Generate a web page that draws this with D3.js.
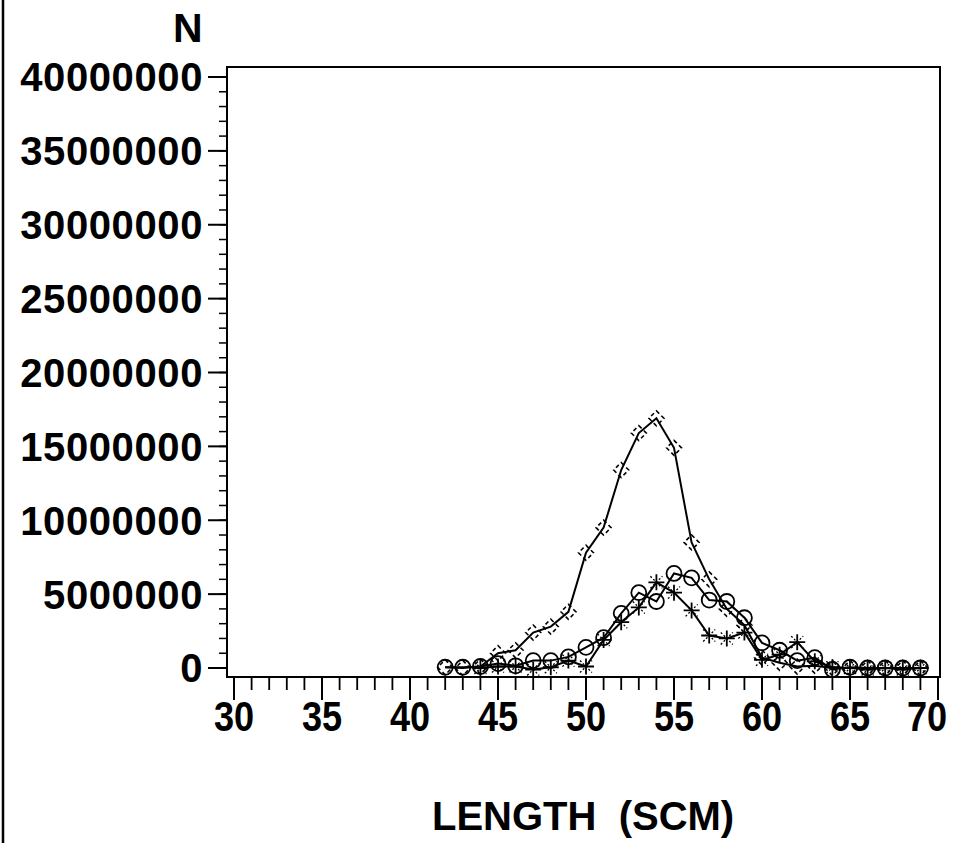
<!DOCTYPE html>
<html><head><meta charset="utf-8">
<script src="https://cdn.jsdelivr.net/npm/d3@7"></script>
<style>
html,body{margin:0;padding:0;background:#fff;}
svg{display:block;}
text{font-family:"Liberation Sans",Arial,Helvetica,sans-serif;font-weight:bold;fill:#000;white-space:pre;}
</style></head>
<body>
<script>
// ---- data ----
const lengths = [42,43,44,45,46,47,48,49,50,51,52,53,54,55,56,57,58,59,60,61,62,63,64,65,66,67,68,69];
const diamondN = [0.05e6,0.0,0.1e6,1.0e6,1.2e6,2.4e6,2.8e6,3.8e6,7.8e6,9.5e6,13.4e6,15.9e6,16.9e6,14.9e6,8.5e6,6.0e6,4.0e6,2.9e6,0.7e6,0.35e6,0.1e6,0.15e6,0,0,0,0,0,0];
const circleN  = [0.05e6,0.05e6,0.1e6,0.3e6,0.15e6,0.5e6,0.5e6,0.75e6,1.4e6,2.05e6,3.7e6,5.1e6,4.5e6,6.4e6,6.1e6,4.6e6,4.5e6,3.4e6,1.7e6,1.2e6,0.5e6,0.7e6,-0.1e6,0.05e6,0,0.0,0,0];
const starN    = [null,null,0.0,0.1e6,0.1e6,-0.1e6,0.05e6,0.5e6,0.1e6,1.9e6,3.1e6,4.1e6,5.8e6,5.1e6,3.9e6,2.2e6,2.0e6,2.4e6,0.55e6,0.9e6,1.75e6,0.45e6,0.05e6,0.0,-0.1e6,0.0,-0.1e6,0.0];
const xTicks = [30,35,40,45,50,55,60,65,70];
const yTicks = [0,5000000,10000000,15000000,20000000,25000000,30000000,35000000,40000000];
const xTitle = "LENGTH  (SCM)";
const yTitle = "N";

const W = 953, H = 843;
const svg = d3.select("body").append("svg").attr("width", W).attr("height", H);

// scan page border at the far left
svg.append("line").attr("x1",3).attr("x2",3).attr("y1",0).attr("y2",H)
  .attr("stroke","#000").attr("stroke-width",2.5);

const frame = {l:227, t:67, r:940, b:677};
const x = d3.scaleLinear().domain([30,70]).range([234,938]);
const y = d3.scaleLinear().domain([0,40000000]).range([668,77]);

// frame
svg.append("rect").attr("x",frame.l).attr("y",frame.t)
  .attr("width",frame.r-frame.l).attr("height",frame.b-frame.t)
  .attr("fill","none").attr("stroke","#000").attr("stroke-width",2);

// y axis ticks (outside, left)
const yMinor = d3.range(0, 40000001, 1000000);
const yg = svg.append("g").attr("transform",`translate(${frame.l},0)`);
yg.selectAll("line.minor").data(yMinor).join("line")
  .attr("x1",-8).attr("x2",0).attr("y1",d=>y(d)).attr("y2",d=>y(d))
  .attr("stroke","#000").attr("stroke-width",1.5);
yg.selectAll("line.major").data(yTicks).join("line")
  .attr("x1",-19).attr("x2",0).attr("y1",d=>y(d)).attr("y2",d=>y(d))
  .attr("stroke","#000").attr("stroke-width",2);
svg.selectAll("text.ylab").data(yTicks).join("text")
  .attr("class","ylab").attr("x",203).attr("y",d=>y(d)).attr("dy","0.36em")
  .attr("text-anchor","end").style("font-size","40px").style("letter-spacing","0.6px")
  .text(d=>d3.format("d")(d));

// x axis ticks (outside, below)
const xMinor = d3.range(30,71,1);
const xg = svg.append("g").attr("transform",`translate(0,${frame.b})`);
xg.selectAll("line.minor").data(xMinor).join("line")
  .attr("x1",d=>x(d)).attr("x2",d=>x(d)).attr("y1",0).attr("y2",13)
  .attr("stroke","#000").attr("stroke-width",1.8);
xg.selectAll("line.major").data(xTicks).join("line")
  .attr("x1",d=>x(d)).attr("x2",d=>x(d)).attr("y1",0).attr("y2",23)
  .attr("stroke","#000").attr("stroke-width",2);
svg.selectAll("text.xlab").data(xTicks).join("text")
  .attr("class","xlab").attr("text-anchor","middle")
  .attr("transform",d=>`translate(${Math.min(x(d), 927)},731) scale(0.86,1)`)
  .style("font-size","42px").text(d=>d);

// titles
svg.append("text").attr("x",173).attr("y",42).style("font-size","41px").text(yTitle);
svg.append("text").attr("x",432).attr("y",830).style("font-size","40px").text(xTitle);

// series
const plot = svg.append("g");
function series(vals){
  return lengths.map((l,i)=>({l, v:vals[i]})).filter(d=>d.v!==null);
}
const line = d3.line().x(d=>x(d.l)).y(d=>y(d.v));

const dData = series(diamondN), cData = series(circleN), sData = series(starN);
[dData,cData,sData].forEach(dat=>{
  plot.append("path").datum(dat).attr("d",line)
    .attr("fill","none").attr("stroke","#000").attr("stroke-width",2);
});

// diamonds (dashed outline)
plot.selectAll("path.dia").data(dData).join("path")
  .attr("transform",d=>`translate(${x(d.l)},${y(d.v)})`)
  .attr("d","M0,-7.5L7.5,0L0,7.5L-7.5,0Z")
  .attr("fill","none").attr("stroke","#000").attr("stroke-width",1.6)
  .attr("stroke-dasharray","4,3");
// circles
plot.selectAll("circle.c").data(cData).join("circle")
  .attr("cx",d=>x(d.l)).attr("cy",d=>y(d.v)).attr("r",7.5)
  .attr("fill","none").attr("stroke","#000").attr("stroke-width",1.8);
// stars: solid plus with dotted diagonals
const st = plot.selectAll("g.star").data(sData).join("g")
  .attr("transform",d=>`translate(${x(d.l)},${y(d.v)})`);
st.append("path").attr("d","M0,-8V8M-8,0H8")
  .attr("stroke","#000").attr("stroke-width",1.8);
st.append("path").attr("d","M-6,-6L6,6M-6,6L6,-6")
  .attr("stroke","#000").attr("stroke-width",1.3).attr("stroke-dasharray","2,2");
</script>
</body></html>
